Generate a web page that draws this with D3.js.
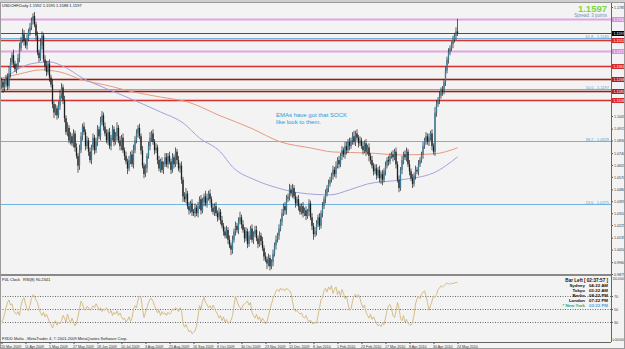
<!DOCTYPE html>
<html>
<head>
<meta charset="utf-8">
<script src="https://cdn.jsdelivr.net/npm/d3@7"></script>
<style>
body { margin: 0; background: #f3f3f3; }
svg { display: block; font-family: "Liberation Sans", Arial, sans-serif; }
</style>
</head>
<body>
<svg id="chart" width="625" height="349"></svg>
<script>
// USDCHF daily, 20 Mar 2009 .. 24 May 2010 (closes)
var firstOpen = 1.122;
var closes = [
  1.125,1.121,1.123,1.128,1.122,1.131,1.139,1.144,1.138,1.134,
  1.136,1.142,1.149,1.155,1.159,1.154,1.151,1.156,1.161,1.164,
  1.169,1.172,1.166,1.158,1.146,1.142,1.151,1.158,1.141,1.136,
  1.132,1.138,1.128,1.123,1.109,1.103,1.106,1.101,1.108,1.115,
  1.121,1.112,1.099,1.089,1.092,1.083,1.086,1.081,1.088,1.078,
  1.072,1.065,1.076,1.086,1.093,1.089,1.079,1.083,1.075,1.069,
  1.078,1.085,1.076,1.082,1.091,1.086,1.096,1.101,1.093,1.088,
  1.083,1.089,1.079,1.085,1.091,1.082,1.086,1.092,1.083,1.079,
  1.085,1.076,1.072,1.068,1.063,1.069,1.073,1.066,1.076,1.083,
  1.088,1.092,1.086,1.076,1.065,1.059,1.063,1.072,1.079,1.085,
  1.088,1.082,1.076,1.078,1.069,1.063,1.068,1.062,1.066,1.071,
  1.066,1.072,1.068,1.062,1.071,1.066,1.075,1.069,1.063,1.065,
  1.055,1.043,1.041,1.045,1.036,1.033,1.038,1.032,1.031,1.035,
  1.031,1.036,1.041,1.033,1.039,1.043,1.038,1.042,1.045,1.041,
  1.035,1.032,1.036,1.031,1.028,1.032,1.026,1.022,1.018,1.015,
  1.019,1.012,1.008,1.005,1.012,1.018,1.022,1.019,1.025,1.028,
  1.023,1.019,1.013,1.018,1.009,1.015,1.020,1.012,1.016,1.019,
  1.013,1.009,1.015,1.011,1.006,1.000,0.998,0.995,0.999,0.993,
  0.996,1.002,1.008,1.012,1.015,1.020,1.025,1.031,1.036,1.033,
  1.041,1.043,1.048,1.045,1.049,1.043,1.038,1.041,1.036,1.032,
  1.036,1.031,1.033,1.029,1.032,1.038,1.028,1.022,1.016,1.018,
  1.023,1.028,1.022,1.031,1.036,1.041,1.045,1.049,1.052,1.055,
  1.058,1.062,1.059,1.065,1.069,1.066,1.072,1.076,1.073,1.079,
  1.076,1.082,1.079,1.083,1.086,1.082,1.088,1.085,1.081,1.083,
  1.079,1.076,1.081,1.075,1.078,1.072,1.069,1.065,1.061,1.063,
  1.058,1.062,1.056,1.059,1.055,1.061,1.065,1.069,1.068,1.072,
  1.073,1.071,1.075,1.066,1.055,1.049,1.062,1.069,1.073,1.071,
  1.075,1.066,1.061,1.056,1.052,1.058,1.062,1.061,1.066,1.069,
  1.073,1.079,1.083,1.086,1.082,1.085,1.088,1.079,1.075,1.103,
  1.109,1.112,1.115,1.119,1.118,1.125,1.133,1.141,1.146,1.149,
  1.152,1.155,1.158,1.161,1.1597
];
// wick lengths above / below the body, in thousandths
var upWick = [
  3,2,4,2,3,5,3,2,4,2, 2,3,4,2,4,3,2,3,2,3, 2,2,3,2,3,2,5,3,2,3,
  4,2,3,2,4,2,3,2,3,4, 3,2,3,2,4,2,3,2,3,2, 3,2,4,3,2,3,2,3,2,3,
  2,3,2,3,3,2,4,3,2,3, 3,2,3,2,3,2,3,4,2,3, 2,3,2,3,2,3,2,3,4,3,
  3,2,3,2,3,2,3,2,3,4, 2,3,2,3,2,3,2,3,2,3, 3,2,3,2,3,2,3,2,3,2,
  3,2,3,4,2,3,2,3,2,3, 2,3,2,3,3,2,4,3,2,3, 2,3,2,3,2,3,2,3,2,3,
  3,2,3,2,3,2,3,2,3,4, 2,3,2,3,2,3,2,3,2,3, 3,2,3,2,3,2,3,2,3,2,
  2,3,2,3,2,3,2,3,2,3, 3,2,4,3,3,2,3,2,3,2, 2,3,2,3,2,3,2,3,2,3,
  3,2,3,2,3,2,3,2,3,2, 2,3,2,3,2,3,2,3,2,3, 3,2,3,2,3,4,2,3,2,3,
  2,3,2,3,2,3,2,3,2,3, 3,2,3,2,3,2,3,2,3,2, 2,3,2,3,2,3,2,3,2,3,
  3,2,3,2,3,2,3,2,3,2, 2,3,2,3,2,3,2,3,2,4, 3,2,3,2,3,2,3,2,3,2,
  2,3,2,3,9
];
var downWick = [
  2,4,3,2,3,2,3,2,3,2, 3,2,3,2,2,3,2,3,2,3, 2,3,2,3,2,3,2,3,2,3,
  3,2,3,2,3,4,2,3,2,3, 2,3,3,2,3,2,3,2,3,3, 2,5,3,2,3,2,3,2,3,2,
  3,2,3,2,3,2,3,2,3,2, 2,3,2,3,2,3,2,3,2,3, 3,2,3,2,4,2,3,2,3,2,
  2,3,2,3,2,3,2,3,2,3, 3,2,3,2,3,2,3,2,3,2, 2,3,2,3,2,3,2,3,2,3,
  3,4,2,3,2,3,2,3,2,3, 2,3,2,3,2,3,2,3,2,3, 3,2,3,2,3,2,3,2,3,2,
  2,3,2,4,3,2,3,2,3,2, 3,2,3,2,3,2,3,2,3,2, 2,3,2,3,2,3,2,4,2,3,
  2,3,2,3,2,3,2,3,2,3, 3,2,3,2,3,2,3,2,3,2, 2,3,2,3,2,3,2,3,4,2,
  3,2,3,2,3,2,3,2,3,2, 2,3,2,3,2,3,2,3,2,3, 3,2,3,2,3,2,3,2,3,2,
  2,3,2,3,2,4,3,2,3,2, 3,2,3,4,4,2,3,2,3,2, 2,3,2,3,2,3,2,3,3,2,
  3,2,3,2,3,2,3,2,3,2, 2,3,2,3,2,3,2,3,2,3, 3,2,3,2,3,2,3,2,3,2,
  2,3,2,3,2
];

// moving averages, read at a few bars
var emaSlowBars = [0,12,26,39,54,72,88,106,124,146,166,186,206,221,244,266,288,304];
var emaSlow = [1.1277,1.1306,1.1335,1.1320,1.1263,1.1220,1.1177,1.1141,1.1106,1.1006,1.0920,1.0820,1.0777,1.0748,1.0741,1.0727,1.0734,1.0777];
var emaFastBars = [0,9,19,32,42,54,72,88,106,121,132,146,154,169,184,199,219,232,244,266,288,296,304];
var emaFast = [1.1249,1.1327,1.1377,1.1392,1.1356,1.1277,1.1192,1.1120,1.1034,1.0956,1.0848,1.0748,1.0641,1.0548,1.0491,1.0455,1.0441,1.0477,1.0519,1.0548,1.0598,1.0648,1.0713];

var rsi = [
  30,34,42,52,60,64,56,58,48,44, 42,46,40,55,64,67,58,50,47,56,
  66,72,70,64,60,50,44,40,45,38, 42,36,30,26,21,28,32,25,30,27,
  32,40,36,30,42,34,28,36,30,24, 28,38,50,62,58,50,48,54,52,48,
  50,55,52,58,54,48,52,46,50,48, 52,46,44,48,40,45,42,47,40,44,
  38,34,36,30,33,38,31,36,50,55, 52,64,70,68,50,37,45,52,60,65,
  66,62,55,50,44,48,40,46,42,44, 40,45,42,44,50,48,52,50,46,52,
  48,28,22,26,20,15,17,12,14,16, 24,38,55,50,62,68,60,57,52,55,
  50,56,52,46,42,36,40,32,38,30, 34,28,30,32,40,56,70,62,56,52,
  50,56,58,60,62,56,60,44,40,36, 42,34,38,30,36,32,27,30,40,50,
  58,66,72,78,80,77,82,79,81,78, 82,80,78,74,62,50,46,48,45,42,
  44,38,36,40,34,30,33,28,27,30, 28,40,52,64,68,78,82,76,84,80,
  86,74,80,84,72,78,70,80,74,66, 70,58,48,50,62,70,73,68,72,66,
  58,52,56,45,40,36,42,34,38,33, 28,24,26,23,28,26,36,48,55,57,
  50,40,37,46,60,52,36,32,40,30, 34,28,26,25,30,40,58,65,70,66,
  72,76,78,70,60,48,55,62,70,68, 72,80,82,86,84,86,88,90,89,88,
  90,89,90,91,90.2341
];
var rsiLevels = [70, 50, 30];

// horizontal lines drawn on the chart
var levelPrices = [1.1700, 1.1552, 1.1472, 1.1363, 1.1268, 1.1185, 1.1118];
var levelKinds = ["pink", "red", "pink", "red", "darkred", "darkred", "red"];
var bidPrice = 1.1597;
var fibNames = ["23.6", "38.2", "50.0", "61.8"];
var fibPrices = [1.0375, 1.0828, 1.1197, 1.1565];

var priceTicks = ["1.1785","1.1700","1.1610","1.1525","1.1440","1.1350","1.1265","1.1180","1.1090","1.1005",
  "1.0915","1.0830","1.0740","1.0655","1.0570","1.0480","1.0395","1.0310","1.0225","1.0135","1.0050","0.9960","0.9875"];
var dateLabels = ["20 Mar 2009","11 Apr 2009","5 May 2009","27 May 2009","18 Jun 2009","10 Jul 2009","3 Aug 2009",
  "25 Aug 2009","16 Sep 2009","8 Oct 2009","30 Oct 2009","23 Nov 2009","15 Dec 2009","8 Jan 2010","1 Feb 2010",
  "23 Feb 2010","17 Mar 2010","8 Apr 2010","30 Apr 2010","24 May 2010"];
var dateStep = 16;

var clockCities = ["Sydney", "Tokyo", "Berlin", "London", "* New York"];
var clockTimes = ["04:22 AM", "03:22 AM", "08:22 PM", "07:22 PM", "02:22 PM"];

// ---------------------------------------------------------------
var W = 625, H = 349, plotRight = 611;
var mainTop = 4, mainBottom = 274, rsiTop = 276, rsiBottom = 342;

var kindColor = {pink: "#e2a4e6", red: "#d83434", darkred: "#9c1c1c"};
var kindBox = {pink: "#d890de", red: "#d42a2a", darkred: "#b01e1e"};

var svg = d3.select("#chart");

svg.append("rect").attr("width", W).attr("height", H).attr("fill", "#f3f3f3");

var defs = svg.append("defs");
defs.append("clipPath").attr("id", "clipMain")
  .append("rect").attr("x", 0).attr("y", mainTop).attr("width", plotRight).attr("height", mainBottom - mainTop);
defs.append("clipPath").attr("id", "clipRsi")
  .append("rect").attr("x", 0).attr("y", rsiTop).attr("width", plotRight).attr("height", rsiBottom - rsiTop);

var x = d3.scaleLinear().domain([0, closes.length - 1]).range([1.5, 457.5]);
var y = d3.scaleLinear().domain([0.9875, 1.1785]).range([274, 7]);
var yR = d3.scaleLinear().domain([0, 100]).range([341.5, 276.5]);

var bars = closes.map(function (c, i) {
  var o = i === 0 ? firstOpen : closes[i - 1];
  return {i: i, o: o, c: c,
    h: Math.max(o, c) + upWick[i] / 1000,
    l: Math.min(o, c) - downWick[i] / 1000};
});

var main = svg.append("g").attr("clip-path", "url(#clipMain)");

// fib lines
fibPrices.forEach(function (p, k) {
  main.append("line").attr("x1", 0).attr("x2", plotRight)
    .attr("y1", Math.round(y(p)) + 0.5).attr("y2", Math.round(y(p)) + 0.5)
    .attr("stroke", "#72b2dc").attr("stroke-width", 1);
  main.append("text").attr("x", plotRight - 2).attr("y", Math.round(y(p)) - 0.5)
    .attr("text-anchor", "end").attr("font-size", 4).attr("fill", "#5aa4d8")
    .text(fibNames[k] + " - " + d3.format(".4f")(p));
});

// support / resistance lines
levelPrices.forEach(function (p, k) {
  var yy = Math.round(y(p)) + 0.5;
  var kind = levelKinds[k];
  if (kind === "pink") {
    main.append("line").attr("x1", 0).attr("x2", plotRight).attr("y1", yy).attr("y2", yy)
      .attr("stroke", kindColor.pink).attr("stroke-width", 2);
  } else {
    main.append("line").attr("x1", 0).attr("x2", plotRight).attr("y1", yy).attr("y2", yy)
      .attr("stroke", kindColor[kind]).attr("stroke-opacity", 0.3).attr("stroke-width", 3);
    main.append("line").attr("x1", 0).attr("x2", plotRight).attr("y1", yy).attr("y2", yy)
      .attr("stroke", kindColor[kind]).attr("stroke-width", 1.2);
  }
});

// bid line
main.append("line").attr("x1", 0).attr("x2", plotRight)
  .attr("y1", Math.round(y(bidPrice)) + 0.5).attr("y2", Math.round(y(bidPrice)) + 0.5)
  .attr("stroke", "#4c4c6c").attr("stroke-width", 1);

// moving averages
var emaLine = d3.line().curve(d3.curveMonotoneX);
main.append("path")
  .attr("d", emaLine(emaSlowBars.map(function (b, k) { return [x(b), y(emaSlow[k])]; })))
  .attr("fill", "none").attr("stroke", "#e89a80").attr("stroke-width", 1);
main.append("path")
  .attr("d", emaLine(emaFastBars.map(function (b, k) { return [x(b), y(emaFast[k])]; })))
  .attr("fill", "none").attr("stroke", "#a2a4d8").attr("stroke-width", 1);

// candles
var candle = main.selectAll(".candle").data(bars).enter().append("g").attr("class", "candle");
candle.append("line")
  .attr("x1", function (d) { return x(d.i); })
  .attr("x2", function (d) { return x(d.i); })
  .attr("y1", function (d) { return y(d.h); })
  .attr("y2", function (d) { return y(d.l); })
  .attr("stroke", "#1c1c1c").attr("stroke-width", 0.7);
candle.append("rect")
  .attr("x", function (d) { return x(d.i) - 0.65; })
  .attr("width", 1.3)
  .attr("y", function (d) { return y(Math.max(d.o, d.c)); })
  .attr("height", function (d) { return Math.max(0.6, Math.abs(y(d.o) - y(d.c))); })
  .attr("fill", function (d) { return d.c >= d.o ? "#3a7b98" : "#1e1e1e"; });

// annotation
main.append("text").attr("x", 276).attr("y", 116.5).attr("font-size", 6).attr("fill", "#2a9ad6")
  .text("EMAs have got that SOCK");
main.append("text").attr("x", 276).attr("y", 123.5).attr("font-size", 6).attr("fill", "#2a9ad6")
  .text("like look to them.");

// header texts
svg.append("text").attr("x", 2).attr("y", 6.5).attr("font-size", 4).attr("fill", "#111")
  .text("USDCHF,Daily  1.1592 1.1595 1.1588 1.1597");
svg.append("text").attr("x", 607).attr("y", 12).attr("text-anchor", "end")
  .attr("font-size", 9.5).attr("font-weight", "bold").attr("fill", "#7cd840").text("1.1597");
svg.append("text").attr("x", 607).attr("y", 16.5).attr("text-anchor", "end")
  .attr("font-size", 4.5).attr("fill", "#6f8fae").text("Spread: 3 points");

// price axis: ticks hidden under a coloured box are left out
var boxPrices = levelPrices.concat([bidPrice]);
var freeTicks = priceTicks.map(Number).filter(function (t) {
  return boxPrices.every(function (p) { return Math.abs(y(t) - y(p)) > 5; });
});
var yAxis = d3.axisRight(y)
  .tickValues(freeTicks)
  .tickSize(2)
  .tickFormat(d3.format(".4f"));
var yAxisG = svg.append("g").attr("transform", "translate(" + plotRight + ",0)").call(yAxis);
yAxisG.select(".domain").remove();
yAxisG.selectAll("text").attr("font-size", 3.6).attr("fill", "#333").attr("x", 3);
yAxisG.selectAll("line").attr("stroke", "#555");

// coloured price boxes on the axis
function priceBox(p, fill) {
  var yy = Math.round(y(p)) + 0.5;
  svg.append("rect").attr("x", plotRight + 1).attr("y", yy - 2.5).attr("width", 14).attr("height", 5).attr("fill", fill);
  svg.append("text").attr("x", plotRight + 2.5).attr("y", yy + 1.4).attr("font-size", 3.6)
    .attr("fill", "#fff").text(d3.format(".4f")(p));
}
levelPrices.forEach(function (p, k) { priceBox(p, kindBox[levelKinds[k]]); });
priceBox(bidPrice, "#000");

// RSI panel
var rsiG = svg.append("g").attr("clip-path", "url(#clipRsi)");
rsiLevels.forEach(function (v) {
  rsiG.append("line").attr("x1", 0).attr("x2", plotRight)
    .attr("y1", Math.round(yR(v)) + 0.5).attr("y2", Math.round(yR(v)) + 0.5)
    .attr("stroke", "#444").attr("stroke-width", 0.8).attr("stroke-dasharray", "1,1.5");
});
rsiG.append("path")
  .attr("d", d3.line()(rsi.map(function (v, i) { return [x(i), yR(v)]; })))
  .attr("fill", "none").attr("stroke", "#d2b77c").attr("stroke-width", 0.9);

var rAxis = d3.axisRight(yR).tickValues(rsiLevels).tickSize(2).tickFormat(d3.format("d"));
var rAxisG = svg.append("g").attr("transform", "translate(" + plotRight + ",0)").call(rAxis);
rAxisG.select(".domain").remove();
rAxisG.selectAll("text").attr("font-size", 3.6).attr("fill", "#333").attr("x", 3);
rAxisG.selectAll("line").attr("stroke", "#555");
svg.append("text").attr("x", plotRight + 1.5).attr("y", 279.5).attr("font-size", 3)
  .attr("textLength", 11.5).attr("lengthAdjust", "spacingAndGlyphs").attr("fill", "#333").text("100.0000");
svg.append("text").attr("x", plotRight + 1.5).attr("y", 341).attr("font-size", 3)
  .attr("textLength", 11.5).attr("lengthAdjust", "spacingAndGlyphs").attr("fill", "#333").text("0.000000");

svg.append("text").attr("x", 2).attr("y", 281).attr("font-size", 4).attr("fill", "#111").text("P4L Clock");
svg.append("text").attr("x", 23).attr("y", 281).attr("font-size", 4).attr("fill", "#111")
  .text("RSI(8) " + d3.format(".4f")(rsi[rsi.length - 1]));

// clock block
svg.append("text").attr("x", 608).attr("y", 281.5).attr("text-anchor", "end")
  .attr("font-size", 4.6).attr("font-weight", "bold").attr("fill", "#111").text("Bar Left [ 02:37:57 ]");
clockCities.forEach(function (c, k) {
  var yy = 287 + k * 4.9;
  var last = k === clockCities.length - 1;
  svg.append("text").attr("x", 585).attr("y", yy).attr("text-anchor", "end")
    .attr("font-size", 4.4).attr("font-weight", "bold").attr("fill", last ? "#36a860" : "#111").text(c);
  svg.append("text").attr("x", 608).attr("y", yy).attr("text-anchor", "end")
    .attr("font-size", 4.4).attr("font-weight", "bold").attr("fill", last ? "#4aa2e2" : "#111").text(clockTimes[k]);
});

svg.append("text").attr("x", 2).attr("y", 340).attr("font-size", 4).attr("fill", "#222")
  .text("FXDD Malta - MetaTrader 4, \u00a9 2001-2009 MetaQuotes Software Corp.");

// frames and separators
svg.append("line").attr("x1", plotRight + 0.5).attr("x2", plotRight + 0.5).attr("y1", 3).attr("y2", rsiBottom)
  .attr("stroke", "#666").attr("stroke-width", 1);
svg.append("line").attr("x1", 0).attr("x2", plotRight).attr("y1", 275).attr("y2", 275)
  .attr("stroke", "#666").attr("stroke-width", 1.5);
svg.append("rect").attr("x", 0.5).attr("y", 2.5).attr("width", W - 1).attr("height", H - 3)
  .attr("fill", "none").attr("stroke", "#9a9a9a").attr("stroke-width", 1);
svg.append("rect").attr("x", 0).attr("y", 0).attr("width", W).attr("height", 2).attr("fill", "#cfcfcf");

// date axis
var dateIdx = dateLabels.map(function (d, k) { return k * dateStep; });
var xAxis = d3.axisBottom(x).tickValues(dateIdx).tickSize(2)
  .tickFormat(function (d, k) { return dateLabels[k]; });
var xAxisG = svg.append("g").attr("transform", "translate(0," + rsiBottom + ")").call(xAxis);
xAxisG.select(".domain").attr("d", "M0,0.5H" + plotRight).attr("stroke", "#666");
xAxisG.selectAll("text").attr("font-size", 3.6).attr("fill", "#333")
  .attr("text-anchor", "start").attr("dx", -1).attr("y", 3.2);
xAxisG.selectAll("line").attr("stroke", "#555");
</script>
</body>
</html>
